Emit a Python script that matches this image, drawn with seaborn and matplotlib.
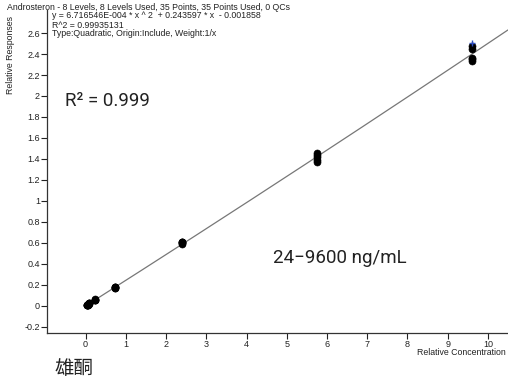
import numpy as np
import pandas as pd
import matplotlib
matplotlib.use("Agg")
import matplotlib.pyplot as plt
import seaborn as sns

# Calibration levels (relative concentration) and replicate responses
level_conc = [0.024, 0.048, 0.096, 0.24, 0.72, 2.4, 5.76, 9.6]
level_resp = [
    [0.003, 0.004, 0.005, 0.006],
    [0.010, 0.011, 0.012, 0.013],
    [0.021, 0.022, 0.024, 0.025],
    [0.055, 0.057, 0.059, 0.060],
    [0.170, 0.173, 0.176, 0.179, 0.181],
    [0.592, 0.598, 0.603, 0.607, 0.611],
    [1.370, 1.390, 1.420, 1.440, 1.455],
    [2.335, 2.350, 2.365, 2.450, 2.475],
]
flagged_conc = [9.6]
flagged_resp = [2.505]

# Quadratic calibration coefficients (weight 1/x, origin included)
coef_a = 6.716546e-4
coef_b = 0.243597
coef_c = -0.001858

xticks = [0, 1, 2, 3, 4, 5, 6, 7, 8, 9, 10]
yticks = [-0.2, 0, 0.2, 0.4, 0.6, 0.8, 1, 1.2, 1.4, 1.6, 1.8, 2, 2.2, 2.4, 2.6]
ytick_labels = ["-0.2", "0", "0.2", "0.4", "0.6", "0.8", "1", "1.2", "1.4",
                "1.6", "1.8", "2", "2.2", "2.4", "2.6"]

points = pd.DataFrame(
    [(c, r) for c, reps in zip(level_conc, level_resp) for r in reps],
    columns=["conc", "resp"],
)
curve_x = np.linspace(0, 10.5, 200)
curve = pd.DataFrame({"conc": curve_x,
                      "resp": coef_a * curve_x**2 + coef_b * curve_x + coef_c})

sns.set_style("white")
plt.rcParams["font.family"] = ["Liberation Sans", "DejaVu Sans"]

fig = plt.figure(figsize=(5.08, 3.83), dpi=100)
ax = fig.add_axes([47 / 508, 50 / 383, 461 / 508, 323 / 383])

sns.lineplot(data=curve, x="conc", y="resp", ax=ax, color="#777777",
             linewidth=0.9, zorder=2)
sns.scatterplot(data=points, x="conc", y="resp", ax=ax, color="black",
                s=26, edgecolor="black", linewidth=0.4, zorder=3)
ax.scatter(flagged_conc, flagged_resp, marker="+", color="#3050c0",
           s=20, linewidths=1.0, zorder=4)

ax.set_xlim(-0.96, 10.5)
ax.set_ylim(-0.26, 2.82)
ax.set_xticks(xticks)
ax.set_xticklabels([str(t) for t in xticks])
ax.set_yticks(yticks)
ax.set_yticklabels(ytick_labels)
ax.tick_params(axis="both", direction="out", length=4, width=0.8,
               labelsize=6.5, colors="#222222", pad=1.0,
               bottom=True, left=True)
ax.set_xlabel("")
ax.set_ylabel("")
for side in ("top", "right"):
    ax.spines[side].set_visible(False)
for side in ("left", "bottom"):
    ax.spines[side].set_color("#333333")
    ax.spines[side].set_linewidth(0.9)

small = dict(fontsize=6.3, color="#222222")
fig.text(7 / 508, 1 - 7 / 383,
         "Androsteron - 8 Levels, 8 Levels Used, 35 Points, 35 Points Used, 0 QCs",
         va="center", ha="left", **small)
fig.text(52 / 508, 1 - 16 / 383,
         "y = 6.716546E-004 * x ^ 2  + 0.243597 * x  - 0.001858",
         va="center", ha="left", **small)
fig.text(52 / 508, 1 - 25 / 383, "R^2 = 0.99935131",
         va="center", ha="left", **small)
fig.text(52 / 508, 1 - 34 / 383, "Type:Quadratic, Origin:Include, Weight:1/x",
         va="center", ha="left", **small)
fig.text(11 / 508, 1 - 55 / 383, "Relative Responses", rotation=90,
         va="center", ha="center", **small)
fig.text(508 / 508 - 2 / 508, 1 - 352.5 / 383, "Relative Concentration",
         va="center", ha="right", **small)

big = dict(fontsize=13.5, color="#222222", family=["Roboto", "DejaVu Sans"])
fig.text(65 / 508, 1 - 101 / 383, "R\u00b2 = 0.999", va="center", ha="left",
         **big)
fig.text(273 / 508, 1 - 258 / 383, "24\u22129600 ng/mL", va="center",
         ha="left", **big)
fig.text(55 / 508, 1 - 369 / 383, "雄酮", va="center", ha="left",
         fontsize=14, color="#222222",
         family=["Noto Sans CJK SC", "DejaVu Sans"])

fig.savefig("out.png", dpi=100)
